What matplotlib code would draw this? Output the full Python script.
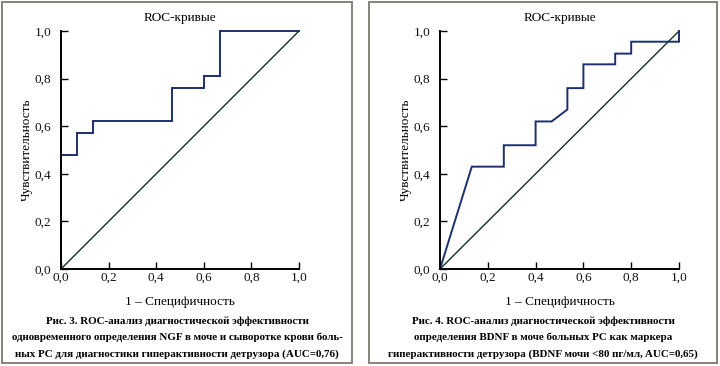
import matplotlib
matplotlib.use("Agg")
import matplotlib.pyplot as plt
from matplotlib.patches import Rectangle
from matplotlib.ticker import FuncFormatter

plt.rcParams['font.family'] = ['Liberation Serif', 'DejaVu Serif']

# ---- data ----
ngf_fpr = [0.0, 0.0, 0.067, 0.067, 0.133, 0.133, 0.467, 0.467, 0.6, 0.6, 0.667, 0.667, 1.0]
ngf_tpr = [0.0, 0.48, 0.48, 0.57, 0.57, 0.62, 0.62, 0.76, 0.76, 0.81, 0.81, 1.0, 1.0]

bdnf_fpr = [0.0, 0.133, 0.267, 0.267, 0.4, 0.4, 0.467, 0.533, 0.533, 0.6, 0.6,
            0.733, 0.733, 0.8, 0.8, 1.0, 1.0]
bdnf_tpr = [0.0, 0.43, 0.43, 0.52, 0.52, 0.62, 0.62, 0.67, 0.76, 0.76, 0.86,
            0.86, 0.905, 0.905, 0.955, 0.955, 1.0]

ref_line = [0.0, 1.0]
ticks = [0.0, 0.2, 0.4, 0.6, 0.8, 1.0]

title = "ROC-кривые"
xlabel = "1 – Специфичность"
ylabel = "Чувствительность"
caption_left = ["Рис. 3. ROC-анализ диагностической эффективности",
                "одновременного определения NGF в моче и сыворотке крови боль-",
                "ных РС для диагностики гиперактивности детрузора (AUC=0,76)"]
caption_right = ["Рис. 4. ROC-анализ диагностической эффективности",
                 "определения BDNF в моче больных РС как маркера",
                 "гиперактивности детрузора (BDNF мочи <80 пг/мл, AUC=0,65)"]

W, H = 720, 366
fig = plt.figure(figsize=(W / 100, H / 100), dpi=100)

def fx(px):
    return px / W

def fy(py):
    return 1 - py / H

BLUE = "#1d2f6f"
DIAG = "#10302a"
FRAME = "#7a7a72"

# panel frames
for (x0, x1) in [(2, 352), (369, 717)]:
    fig.patches.append(Rectangle((fx(x0), fy(363)), fx(x1) - fx(x0), fy(2) - fy(363),
                                 transform=fig.transFigure, fill=False,
                                 edgecolor=FRAME, linewidth=1.3))

fmt = FuncFormatter(lambda v, p: f"{v:.1f}".replace(".", ","))

panels = [
    (61, 299, ngf_fpr, ngf_tpr, caption_left, 177),
    (440, 679, bdnf_fpr, bdnf_tpr, caption_right, 543),
]

for (ax0, ax1, xs, ys, cap, cx) in panels:
    ax = fig.add_axes([fx(ax0), fy(269), fx(ax1) - fx(ax0), fy(31) - fy(269)])
    ax.plot(ref_line, ref_line, color=DIAG, linewidth=1.0, clip_on=False)
    ax.plot(xs, ys, color=BLUE, linewidth=1.4, clip_on=False, solid_joinstyle='miter')
    ax.set_xlim(0, 1)
    ax.set_ylim(0, 1)
    ax.set_xticks(ticks)
    ax.set_yticks(ticks)
    ax.xaxis.set_major_formatter(fmt)
    ax.yaxis.set_major_formatter(fmt)
    for s in ['top', 'right']:
        ax.spines[s].set_visible(False)
    for s in ['left', 'bottom']:
        ax.spines[s].set_linewidth(1.4)
        ax.spines[s].set_color('black')
    ax.tick_params(direction='in', length=5, width=1.0, labelsize=9.5, pad=2,
                   labelcolor='#111111')
    ax.tick_params(axis='y', pad=7)
    ax.set_facecolor('none')
    ax.set_title(title, fontsize=9.5, pad=7)
    ax.set_xlabel(xlabel, fontsize=9.5, labelpad=9)
    ax.set_ylabel(ylabel, fontsize=9.5, labelpad=1)
    for i, line in enumerate(cap):
        fig.text(fx(cx), fy(321 + i * 16.7), line, ha='center', va='center',
                 fontsize=7.9, fontweight='bold')

fig.savefig("out.png", dpi=100)
